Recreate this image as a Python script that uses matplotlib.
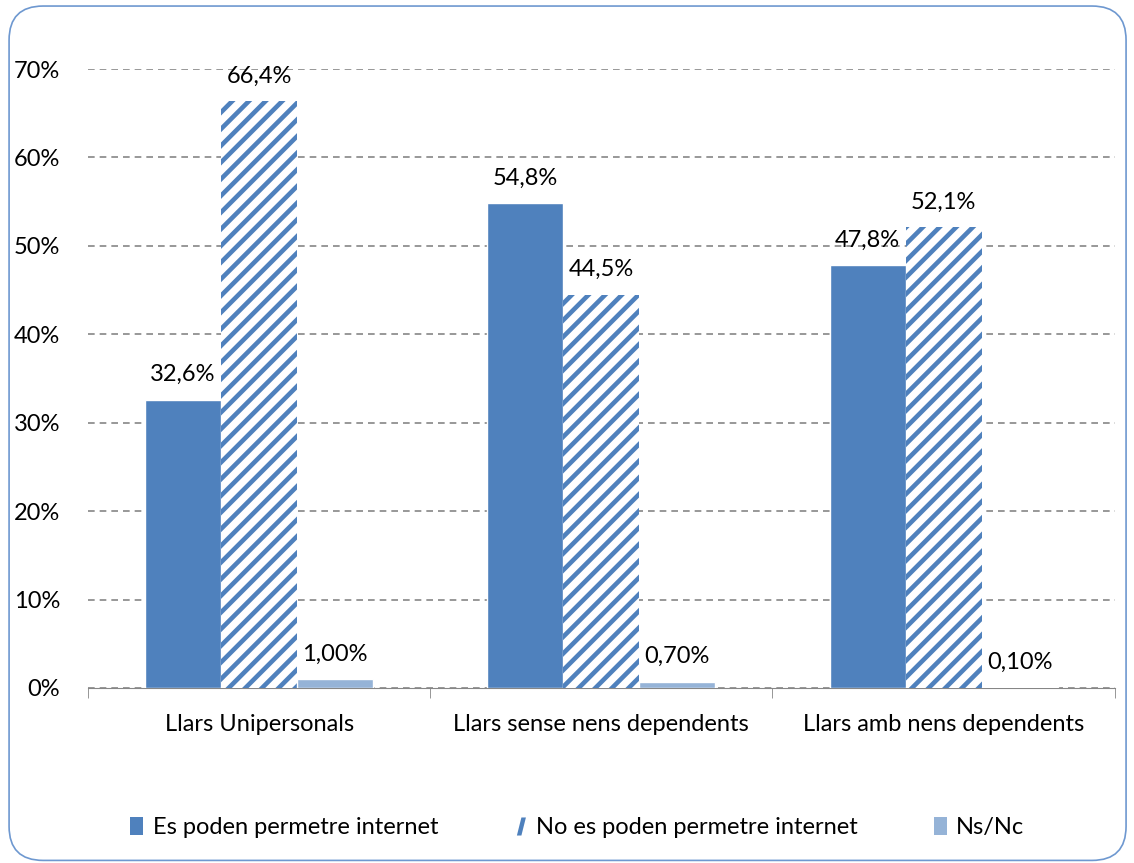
import numpy as np
import matplotlib
matplotlib.use('Agg')
import matplotlib.pyplot as plt
from matplotlib.patches import Patch, FancyBboxPatch
from matplotlib.lines import Line2D

categories = ['Llars Unipersonals', 'Llars sense nens dependents', 'Llars amb nens dependents']
series_names = ['Es poden permetre internet', 'No es poden permetre internet', 'Ns/Nc']
poden = [32.6, 54.8, 47.8]
no_poden = [66.4, 44.5, 52.1]
nsnc = [1.0, 0.7, 0.1]
labels_poden = ['32,6%', '54,8%', '47,8%']
labels_no = ['66,4%', '44,5%', '52,1%']
labels_ns = ['1,00%', '0,70%', '0,10%']
yticks = [0, 10, 20, 30, 40, 50, 60, 70]

blue = '#4F81BD'
light = '#95B3D7'
fs = 17

plt.rcParams['font.family'] = ['Lato', 'DejaVu Sans']
plt.rcParams['hatch.linewidth'] = 3.3
plt.rcParams['hatch.color'] = blue

fig = plt.figure(figsize=(11.34, 8.63), dpi=100)
ax = fig.add_axes([0.0776, 0.2028, 0.9054, 0.7172])

x = np.arange(len(categories))
w = 0.222
b1 = ax.bar(x - w, poden, w, color=blue, edgecolor='white', linewidth=1, zorder=3)
b2 = ax.bar(x, no_poden, w, color='white', edgecolor=blue, hatch='//', linewidth=0, zorder=3)
b3 = ax.bar(x + w, nsnc, w, color=light, edgecolor='white', linewidth=1, zorder=3)

for bars, labs in [(b1, labels_poden), (b2, labels_no), (b3, labels_ns)]:
    for r, t in zip(bars, labs):
        ax.annotate(t, (r.get_x() + r.get_width() / 2, r.get_height()),
                    xytext=(0, 18), textcoords='offset points', ha='center', va='center',
                    fontsize=fs, color='black', zorder=4)

ax.set_xlim(-0.5, 2.5)
ax.set_ylim(0, 70)
ax.set_yticks(yticks)
ax.set_yticklabels([f'{v}%' for v in yticks], fontsize=fs)
ax.yaxis.grid(True, linestyle=(0, (4, 3)), color='#868686', linewidth=1.2, zorder=0)
ax.set_xticks(x)
ax.set_xticklabels(categories, fontsize=fs)
ax.set_xticks([-0.5, 0.5, 1.5, 2.5], minor=True)
ax.tick_params(axis='x', which='major', length=0, pad=19)
ax.tick_params(axis='x', which='minor', length=7, color='#868686', direction='out')
ax.tick_params(axis='y', length=0, pad=20)
for s in ['top', 'right', 'left']:
    ax.spines[s].set_visible(False)
ax.spines['bottom'].set_color('#868686')

# slanted stroke used by the legend for the hatched series
stroke = [(-0.2, -0.5), (0.05, -0.5), (0.3, 0.5), (0.05, 0.5)]
handles = [Patch(facecolor=blue, edgecolor='none'),
           Line2D([], [], linestyle='none', marker=stroke, markersize=13,
                  markerfacecolor=blue, markeredgewidth=0),
           Patch(facecolor=light, edgecolor='none')]
fig.legend(handles, series_names, loc='center', bbox_to_anchor=(0.509, 0.041),
           ncol=3, frameon=False, fontsize=fs, handlelength=0.55, handleheight=0.75,
           handletextpad=0.4, columnspacing=3.2)

border = FancyBboxPatch((0.008, 0.003), 0.985, 0.99, boxstyle='round,pad=0,rounding_size=0.03',
                        transform=fig.transFigure, facecolor='none', edgecolor='#6E98D0',
                        linewidth=1.2, mutation_aspect=1134 / 863)
fig.patches.append(border)

fig.savefig('out.png', dpi=100)
